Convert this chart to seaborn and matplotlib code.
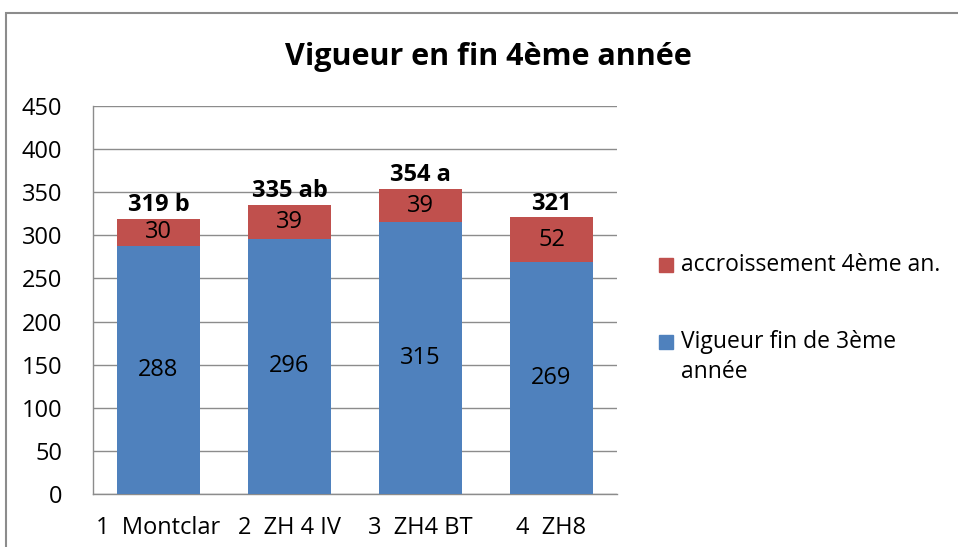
import matplotlib
matplotlib.use("Agg")
import matplotlib.pyplot as plt
from matplotlib.patches import Rectangle
import seaborn as sns
import pandas as pd

# data
clones = ["1  Montclar", "2  ZH 4 IV", "3  ZH4 BT", "4  ZH8"]
vigueur_3 = [288, 296, 315, 269]
accroissement_4 = [30, 39, 39, 52]
total_4 = [319, 335, 354, 321]
groupes = ["b", "ab", "a", ""]

BLUE = "#4F81BD"
RED = "#C0504D"
GRID = "#8C8C8C"

df = pd.DataFrame({"clone": clones, "base": vigueur_3,
                   "incr": accroissement_4, "total": total_4})

sns.set_style("white")
plt.rcParams["font.family"] = ["Open Sans", "DejaVu Sans"]
plt.rcParams["text.color"] = "black"
plt.rcParams["xtick.color"] = "black"
plt.rcParams["ytick.color"] = "black"

fig = plt.figure(figsize=(9.58, 5.47), dpi=100)
ax = fig.add_axes([93/958, 1-494/547, 524/958, 388/547])

# stacked bars: total (red) underneath, base (blue) on top
sns.barplot(data=df, x="clone", y="total", color=RED, width=0.63,
            saturation=1, linewidth=0, ax=ax, zorder=2)
sns.barplot(data=df, x="clone", y="base", color=BLUE, width=0.63,
            saturation=1, linewidth=0, ax=ax, zorder=3)

for i, row in df.iterrows():
    ax.text(i, row["base"] / 2, str(row["base"]), ha="center", va="center",
            fontsize=17, zorder=5)
    ax.text(i, (row["base"] + row["total"]) / 2, str(row["incr"]),
            ha="center", va="center", fontsize=17, zorder=5)
    lab = f"{row['total']} {groupes[i]}".strip()
    ax.text(i, row["total"] + 2, lab, ha="center", va="bottom",
            fontsize=17, fontweight="bold", zorder=5)

ax.set_ylim(0, 450)
ax.set_yticks(range(0, 451, 50))
ax.set_xlim(-0.5, 3.5)
ax.yaxis.grid(True, color=GRID, linewidth=1)
ax.set_axisbelow(True)
ax.tick_params(axis="both", length=0, labelsize=17)
ax.tick_params(axis="y", pad=22)
ax.tick_params(axis="x", pad=16)
ax.set_xlabel("")
ax.set_ylabel("")
for s in ["top", "right"]:
    ax.spines[s].set_visible(False)
for s in ["left", "bottom"]:
    ax.spines[s].set_color(GRID)
    ax.spines[s].set_linewidth(1)

# legend drawn by hand: square keys aligned with the first text line
W, H = 958, 547
legend_items = [(RED, "accroissement 4ème an.", 265),
                (BLUE, "Vigueur fin de 3ème\nannée", 342)]
for col, txt, yc in legend_items:
    fig.add_artist(Rectangle((659/W, 1 - (yc + 7)/H), 14/W, 14/H,
                             transform=fig.transFigure, color=col))
    fig.text(681/W, 1 - (yc - 12)/H, txt, ha="left", va="top",
             fontsize=16.5, linespacing=1.35)

fig.text(488/W, 1-57/H, "Vigueur en fin 4ème année", ha="center",
         va="center", fontsize=22, fontweight="bold")

# outer chart frame (cropped on the right and bottom)
fig.add_artist(Rectangle((6/W, -0.1), 1.1, 1.1 - 13/H,
                         transform=fig.transFigure, fill=False,
                         edgecolor="#8C8C8C", linewidth=1.5))

fig.savefig("out.png", dpi=100)
